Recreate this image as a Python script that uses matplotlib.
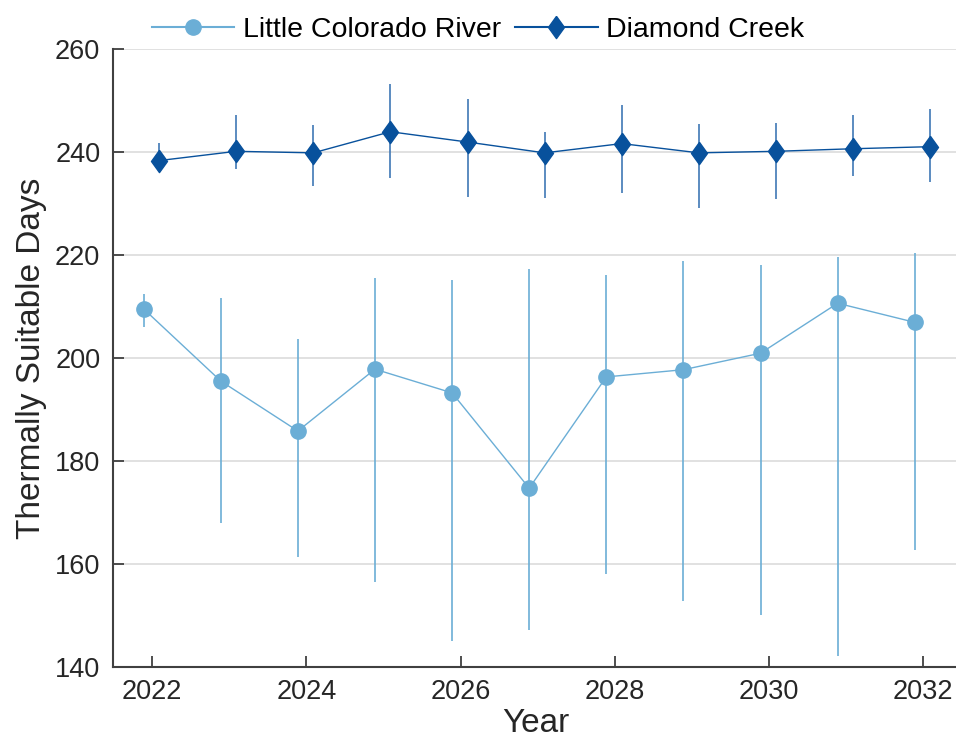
import numpy as np
import matplotlib.pyplot as plt
from matplotlib.lines import Line2D

plt.rcParams['font.family'] = ['Liberation Sans', 'DejaVu Sans']

years = np.arange(2022, 2033)

# Little Colorado River
lcr_mean = [209.5, 195.5, 185.8, 197.8, 193.2, 174.7, 196.3, 197.7, 200.9, 210.6, 206.9]
lcr_hi = [212.3, 211.7, 203.6, 215.5, 215.2, 217.3, 216.0, 218.9, 218.1, 219.5, 220.3]
lcr_lo = [205.9, 168.0, 161.4, 156.4, 145.0, 147.2, 158.1, 152.7, 150.0, 142.2, 162.7]

# Diamond Creek
dc_mean = [238.3, 240.1, 239.8, 243.9, 241.9, 239.8, 241.6, 239.8, 240.1, 240.6, 241.0]
dc_hi = [241.7, 247.2, 245.2, 253.1, 250.3, 243.8, 249.0, 245.4, 245.6, 247.2, 248.4]
dc_lo = [236.5, 236.6, 233.3, 235.0, 231.3, 231.0, 232.1, 229.0, 230.9, 235.3, 234.2]

lcr_col = '#6BAED6'
dc_col = '#08519C'

# diamond a bit wider than matplotlib's 'd'
diamond = [(0, 1), (0.72, 0), (0, -1), (-0.72, 0), (0, 1)]

fig = plt.figure(figsize=(9.56, 7.51), dpi=100)
ax = fig.add_axes([0.118, 0.112, 0.884, 0.823])

x1 = years - 0.11
x2 = years + 0.09
lcr_mean = np.array(lcr_mean)
dc_mean = np.array(dc_mean)
lcr_err = [lcr_mean - np.array(lcr_lo), np.array(lcr_hi) - lcr_mean]
dc_err = [dc_mean - np.array(dc_lo), np.array(dc_hi) - dc_mean]

ax.errorbar(x1, lcr_mean, yerr=lcr_err, color=lcr_col, lw=1.0, elinewidth=1.2,
            marker='o', ms=11, capsize=0, zorder=3)
ax.errorbar(x2, dc_mean, yerr=dc_err, color=dc_col, lw=1.0, elinewidth=1.2,
            marker=diamond, ms=16, capsize=0, zorder=3, ecolor='#3f78b5')

ax.set_xlim(2021.49, 2032.45)
ax.set_ylim(140, 260)
ax.set_xticks(np.arange(2022, 2033, 2))
ax.set_yticks(np.arange(140, 261, 20))
ax.grid(axis='y', color='#dcdcdc', lw=1.2)
ax.set_axisbelow(True)
for s in ['top', 'right']:
    ax.spines[s].set_visible(False)
for s in ['left', 'bottom']:
    ax.spines[s].set_color('#404040')
    ax.spines[s].set_linewidth(1.5)
ax.tick_params(direction='in', length=8, width=1.3, color='#404040',
               labelsize=19.5, labelcolor='#262626', pad=9)
ax.set_xlabel('Year', fontsize=24, color='#262626', labelpad=2)
ax.set_ylabel('Thermally Suitable Days', fontsize=24, color='#262626', labelpad=6)

handles = [
    Line2D([], [], color=lcr_col, lw=1.5, marker='o', ms=11),
    Line2D([], [], color=dc_col, lw=1.5, marker=diamond, ms=16),
]
fig.legend(handles, ['Little Colorado River', 'Diamond Creek'],
           loc='upper center', bbox_to_anchor=(0.5, 1.012), ncol=2, frameon=False,
           fontsize=20.5, handlelength=2.9, columnspacing=0.5, handletextpad=0.3)

fig.savefig('out.png', dpi=100)
